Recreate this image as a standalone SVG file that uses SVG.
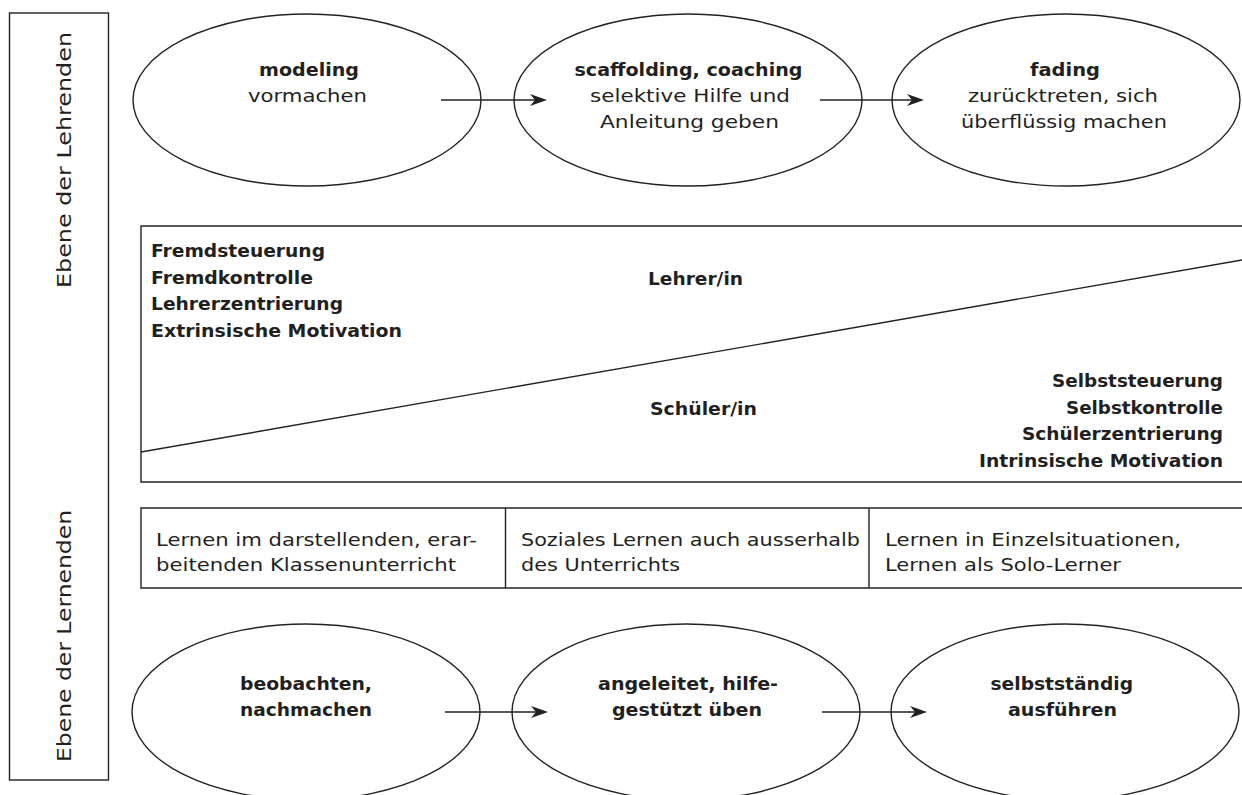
<svg xmlns="http://www.w3.org/2000/svg" width="1242" height="795" viewBox="0 0 1242 795">
  <defs>
    <style>
      .shape { fill: none; stroke: #222; stroke-width: 1.4; }
      .conn { fill: none; stroke: #222; stroke-width: 1.5; }
      text { font-family: "DejaVu Sans", "Open Sans", "Liberation Sans", sans-serif; fill: #231f20; font-size: 18.5px; }
      .b { font-weight: bold; }
      .side { font-size: 20px; }
    </style>
    <marker id="ah" markerUnits="userSpaceOnUse" markerWidth="18" markerHeight="14" refX="11" refY="6" orient="auto">
      <path d="M0,0 L17,6 L0,12 L5,6 Z" fill="#222"/>
    </marker>
  </defs>
  <rect width="1242" height="795" fill="#fff"/>

  <g id="side-panel">
    <rect class="shape" x="9.5" y="13" width="99" height="767"/>
    <text class="side" transform="translate(71 288) rotate(-90)" textLength="256" lengthAdjust="spacingAndGlyphs">Ebene der Lehrenden</text>
    <text class="side" transform="translate(71 762) rotate(-90)" textLength="252" lengthAdjust="spacingAndGlyphs">Ebene der Lernenden</text>
  </g>

  <g id="modeling">
    <ellipse class="shape" cx="307" cy="100" rx="174" ry="86"/>
    <text class="b" x="259" y="76" textLength="100" lengthAdjust="spacingAndGlyphs">modeling</text>
    <text x="248" y="102" textLength="119" lengthAdjust="spacingAndGlyphs">vormachen</text>
  </g>
  <g id="scaffolding">
    <ellipse class="shape" cx="688" cy="100" rx="174" ry="86"/>
    <text class="b" x="574.5" y="76" textLength="228" lengthAdjust="spacingAndGlyphs">scaffolding, coaching</text>
    <text x="590" y="102" textLength="200" lengthAdjust="spacingAndGlyphs">selektive Hilfe und</text>
    <text x="600" y="128" textLength="179" lengthAdjust="spacingAndGlyphs">Anleitung geben</text>
  </g>
  <g id="fading">
    <ellipse class="shape" cx="1066" cy="100" rx="174" ry="86"/>
    <text class="b" x="1030" y="76" textLength="70" lengthAdjust="spacingAndGlyphs">fading</text>
    <text x="968" y="102" textLength="190" lengthAdjust="spacingAndGlyphs">zurücktreten, sich</text>
    <text x="961" y="128" textLength="206" lengthAdjust="spacingAndGlyphs">überflüssig machen</text>
  </g>

  <g id="steuerung-panel">
    <path class="shape" d="M1243,226 H141 V482 H1243"/>
    <line class="shape" x1="141" y1="452" x2="1242" y2="260"/>
    <text class="b" x="151" y="257" textLength="174" lengthAdjust="spacingAndGlyphs">Fremdsteuerung</text>
    <text class="b" x="151" y="284" textLength="162" lengthAdjust="spacingAndGlyphs">Fremdkontrolle</text>
    <text class="b" x="151" y="310" textLength="192" lengthAdjust="spacingAndGlyphs">Lehrerzentrierung</text>
    <text class="b" x="151" y="337" textLength="251" lengthAdjust="spacingAndGlyphs">Extrinsische Motivation</text>
    <text class="b" x="648" y="285" textLength="95" lengthAdjust="spacingAndGlyphs">Lehrer/in</text>
    <text class="b" x="650" y="415" textLength="107" lengthAdjust="spacingAndGlyphs">Schüler/in</text>
    <text class="b" x="1052" y="387" textLength="171" lengthAdjust="spacingAndGlyphs">Selbststeuerung</text>
    <text class="b" x="1066" y="414" textLength="157" lengthAdjust="spacingAndGlyphs">Selbstkontrolle</text>
    <text class="b" x="1022" y="440" textLength="201" lengthAdjust="spacingAndGlyphs">Schülerzentrierung</text>
    <text class="b" x="979" y="467" textLength="244" lengthAdjust="spacingAndGlyphs">Intrinsische Motivation</text>
  </g>

  <g id="lernformen-row">
    <path class="shape" d="M1243,508 H141 V588 H1243"/>
    <line class="shape" x1="505.5" y1="508" x2="505.5" y2="588"/>
    <line class="shape" x1="869" y1="508" x2="869" y2="588"/>
    <text x="156" y="546" textLength="321" lengthAdjust="spacingAndGlyphs">Lernen im darstellenden, erar-</text>
    <text x="156" y="571" textLength="300" lengthAdjust="spacingAndGlyphs">beitenden Klassenunterricht</text>
    <text x="521" y="546" textLength="339" lengthAdjust="spacingAndGlyphs">Soziales Lernen auch ausserhalb</text>
    <text x="521" y="571" textLength="159" lengthAdjust="spacingAndGlyphs">des Unterrichts</text>
    <text x="885" y="546" textLength="296" lengthAdjust="spacingAndGlyphs">Lernen in Einzelsituationen,</text>
    <text x="885" y="571" textLength="236" lengthAdjust="spacingAndGlyphs">Lernen als Solo-Lerner</text>
  </g>

  <g id="beobachten">
    <ellipse class="shape" cx="306" cy="712" rx="174" ry="88"/>
    <text class="b" x="240" y="690" textLength="132" lengthAdjust="spacingAndGlyphs">beobachten,</text>
    <text class="b" x="240" y="716" textLength="132" lengthAdjust="spacingAndGlyphs">nachmachen</text>
  </g>
  <g id="ueben">
    <ellipse class="shape" cx="686" cy="712" rx="174" ry="88"/>
    <text class="b" x="598" y="690" textLength="180" lengthAdjust="spacingAndGlyphs">angeleitet, hilfe-</text>
    <text class="b" x="612" y="716" textLength="150" lengthAdjust="spacingAndGlyphs">gestützt üben</text>
  </g>
  <g id="ausfuehren">
    <ellipse class="shape" cx="1065" cy="712" rx="174" ry="88"/>
    <text class="b" x="990.5" y="690" textLength="142.5" lengthAdjust="spacingAndGlyphs">selbstständig</text>
    <text class="b" x="1008" y="716" textLength="109" lengthAdjust="spacingAndGlyphs">ausführen</text>
  </g>

  <g id="connectors">
    <line class="conn" x1="441" y1="100" x2="541" y2="100" marker-end="url(#ah)"/>
    <line class="conn" x1="820" y1="100" x2="918" y2="100" marker-end="url(#ah)"/>
    <line class="conn" x1="445" y1="712" x2="542" y2="712" marker-end="url(#ah)"/>
    <line class="conn" x1="822" y1="712" x2="921" y2="712" marker-end="url(#ah)"/>
  </g>
</svg>
